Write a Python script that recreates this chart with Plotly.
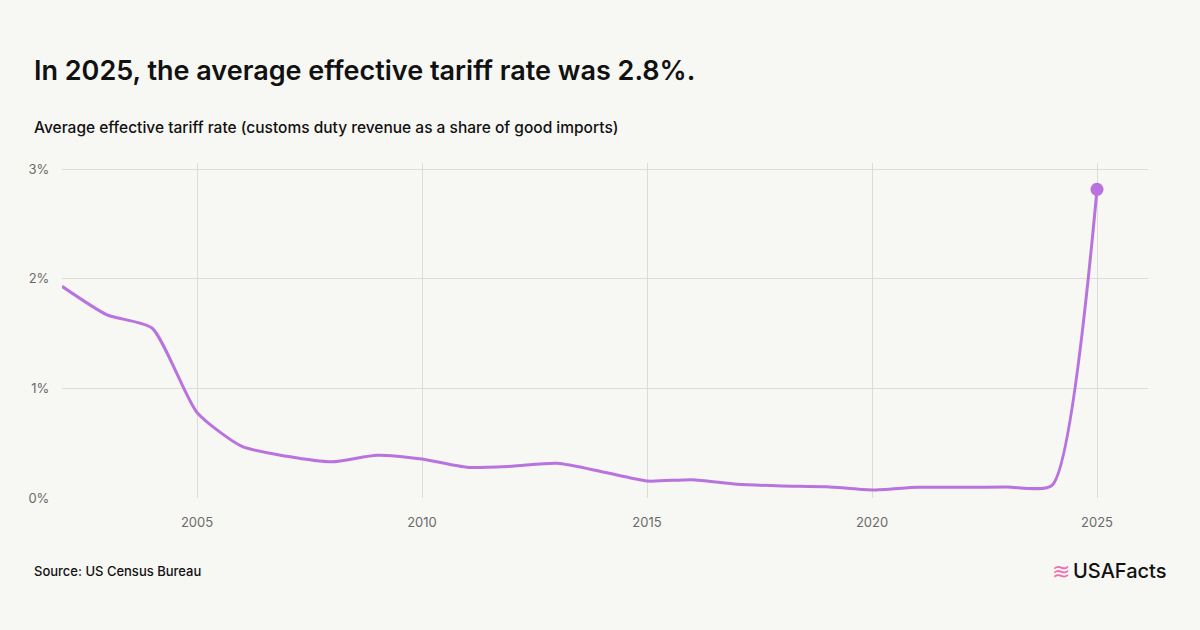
import plotly.graph_objects as go

years = list(range(2002, 2026))
rates = [1.93, 1.67, 1.55, 0.78, 0.47, 0.38, 0.33, 0.39, 0.355, 0.28, 0.29, 0.316,
         0.24, 0.155, 0.167, 0.125, 0.11, 0.103, 0.073, 0.097, 0.097, 0.10, 0.115, 2.815]
y_ticks = [0, 1, 2, 3]
y_tick_labels = ["0%", "1%", "2%", "3%"]
x_ticks = [2005, 2010, 2015, 2020, 2025]

LINE = "#b973df"
BG = "#f7f7f3"
GRID = "#dddcd8"
FONT = "Inter"

fig = go.Figure()
fig.add_trace(go.Scatter(
    x=years, y=rates, mode="lines",
    line=dict(color=LINE, width=3, shape="spline", smoothing=0.6),
    hoverinfo="skip", showlegend=False,
))
fig.add_trace(go.Scatter(
    x=[years[-1]], y=[rates[-1]], mode="markers",
    marker=dict(color=LINE, size=13),
    hoverinfo="skip", showlegend=False,
))

fig.update_layout(
    width=1200, height=630,
    paper_bgcolor=BG, plot_bgcolor=BG,
    margin=dict(l=62, r=52, t=163, b=132),
    font=dict(family=FONT, color="#111"),
    xaxis=dict(
        range=[2002, 2026.133], tickvals=x_ticks, ticktext=[str(v) for v in x_ticks],
        showgrid=True, gridcolor=GRID, gridwidth=1, zeroline=False,
        showline=False, ticks="outside", ticklen=12, tickcolor="rgba(0,0,0,0)",
        tickfont=dict(size=13, color="#6b6b6b", family=FONT),
    ),
    yaxis=dict(
        range=[0, 3.055], tickvals=y_ticks, ticktext=y_tick_labels,
        showgrid=True, gridcolor=GRID, gridwidth=1, zeroline=False,
        showline=False, ticks="outside", ticklen=9, tickcolor="rgba(0,0,0,0)",
        tickfont=dict(size=13, color="#6b6b6b", family=FONT),
    ),
    annotations=[
        dict(text="In 2025, the average effective tariff rate was 2.8%.",
             xref="paper", yref="paper", x=-(62 - 32) / 1086, y=1 + (163 - 70) / 335,
             xanchor="left", yanchor="middle", showarrow=False,
             font=dict(size=27, color="#111", family=FONT, weight=600)),
        dict(text="Average effective tariff rate (customs duty revenue as a share of good imports)",
             xref="paper", yref="paper", x=-(62 - 32) / 1086, y=1 + (163 - 128) / 335,
             xanchor="left", yanchor="middle", showarrow=False,
             font=dict(size=15.5, color="#111", family=FONT, weight=500)),
        dict(text="Source: US Census Bureau",
             xref="paper", yref="paper", x=-(62 - 32) / 1086, y=-(571 - 498) / 335,
             xanchor="left", yanchor="middle", showarrow=False,
             font=dict(size=13, color="#111", family=FONT, weight=500)),
        dict(text="USAFacts",
             xref="paper", yref="paper", x=(1168 - 62) / 1086, y=-(571 - 498) / 335,
             xanchor="right", yanchor="middle", showarrow=False,
             font=dict(size=20, color="#111", family=FONT, weight=500)),
        dict(text="≋",
             xref="paper", yref="paper", x=(1072 - 62) / 1086, y=-(571 - 498) / 335,
             xanchor="right", yanchor="middle", showarrow=False,
             font=dict(size=22, color="#ee6fb3", family=FONT)),
    ],
)

fig.write_html("out.html")
